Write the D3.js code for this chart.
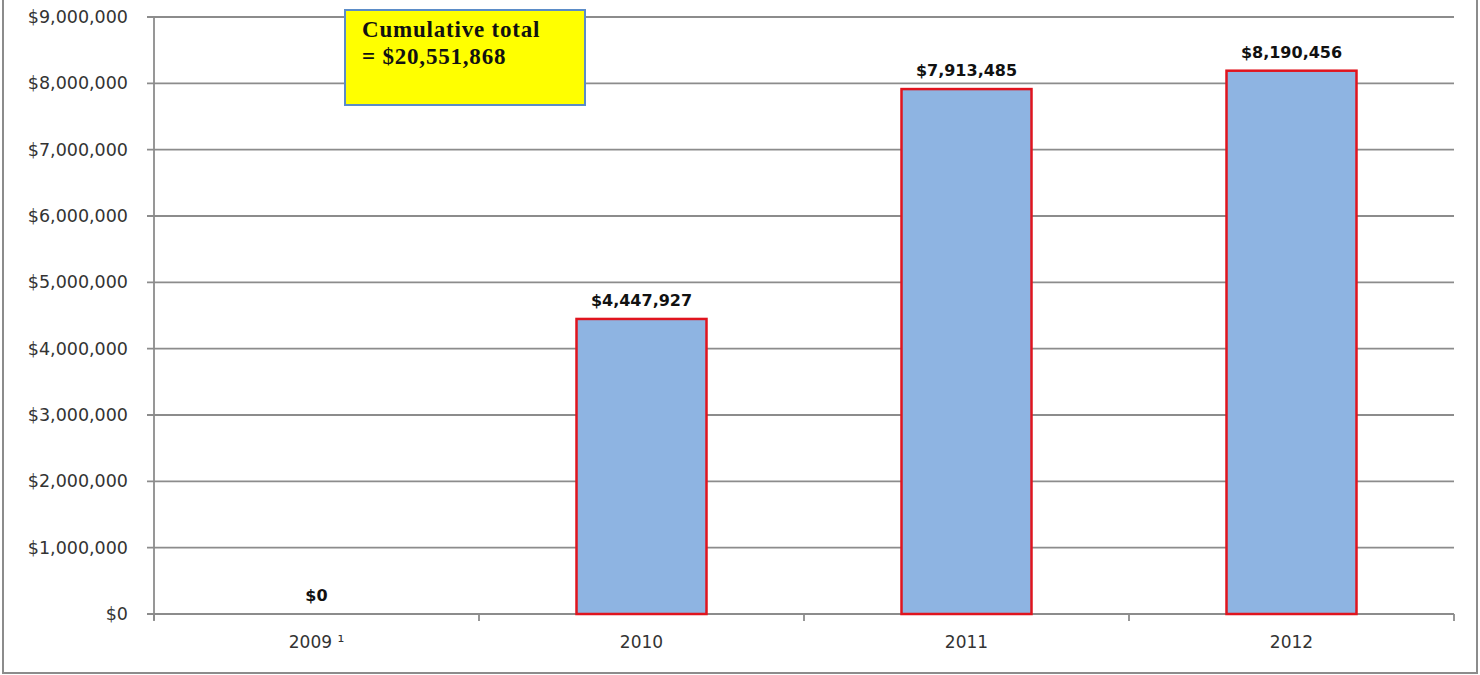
<!DOCTYPE html>
<html><head><meta charset="utf-8">
<script src="https://cdn.jsdelivr.net/npm/d3@7"></script>
<style>body{margin:0;background:#fff}svg{display:block}</style>
</head><body>
<svg id="c" width="1480" height="675"></svg>
<script>
const categories = ["2009 \u00b9", "2010", "2011", "2012"];
const values = [0, 4447927, 7913485, 8190456];
const valueLabels = ["$0", "$4,447,927", "$7,913,485", "$8,190,456"];
const yTicks = [0,1000000,2000000,3000000,4000000,5000000,6000000,7000000,8000000,9000000];
const noteLines = ["Cumulative total", "= $20,551,868"];

const svg = d3.select("#c");
const m = {left:154, right:1454, top:17, bottom:614};
const x = d3.scaleBand().domain(categories).range([m.left, m.right]).paddingInner(0).paddingOuter(0);
const y = d3.scaleLinear().domain([0, 9000000]).range([m.bottom, m.top]);
const font = "'DejaVu Sans', Verdana, sans-serif";

// outer frame
svg.append("path").attr("d","M3,0 V673 H1477 V0").attr("fill","none").attr("stroke","#8c8c8c").attr("stroke-width",2);

// gridlines
svg.append("g").selectAll("line").data(yTicks).join("line")
  .attr("x1", m.left-7).attr("x2", m.right)
  .attr("y1", d=>y(d)).attr("y2", d=>y(d))
  .attr("stroke","#8c8c8c").attr("stroke-width",1.8);

// y axis line
svg.append("line").attr("x1",m.left).attr("x2",m.left).attr("y1",m.top).attr("y2",m.bottom+6)
  .attr("stroke","#8c8c8c").attr("stroke-width",1.8);

// y tick labels
svg.append("g").selectAll("text").data(yTicks).join("text")
  .attr("x", 128).attr("y", d=>y(d)).attr("dy","0.35em")
  .attr("text-anchor","end").attr("font-family",font).attr("font-size",17.5).attr("fill","#333")
  .text(d=>d3.format("$,")(d));

// x ticks
const edges = categories.map(c=>x(c)).concat([m.right]);
svg.append("g").selectAll("line").data(edges).join("line")
  .attr("x1",d=>d).attr("x2",d=>d).attr("y1",m.bottom).attr("y2",m.bottom+7)
  .attr("stroke","#8c8c8c").attr("stroke-width",1.8);

// bars
const bw = x.bandwidth()*0.4;
svg.append("g").selectAll("rect").data(values.map((v,i)=>({v,c:categories[i]})).filter(d=>d.v>0)).join("rect")
  .attr("x", d=>x(d.c)+x.bandwidth()/2-bw/2).attr("width", bw)
  .attr("y", d=>y(d.v)).attr("height", d=>y(0)-y(d.v))
  .attr("fill","#8eb4e2").attr("stroke","#e0141e").attr("stroke-width",2.5);

// value labels
svg.append("g").selectAll("text").data(values).join("text")
  .attr("x",(d,i)=>x(categories[i])+x.bandwidth()/2)
  .attr("y",d=>y(d)-13)
  .attr("text-anchor","middle").attr("font-family",font).attr("font-weight","bold").attr("font-size",16).attr("fill","#111")
  .text((d,i)=>valueLabels[i]);

// x labels
svg.append("g").selectAll("text").data(categories).join("text")
  .attr("x",d=>x(d)+x.bandwidth()/2).attr("y",648)
  .attr("text-anchor","middle").attr("font-family",font).attr("font-size",17).attr("fill","#333")
  .text(d=>d);

// note box
svg.append("rect").attr("x",345).attr("y",10).attr("width",240).attr("height",95)
  .attr("fill","#ffff00").attr("stroke","#5b8cc8").attr("stroke-width",2);
svg.append("g").selectAll("text").data(noteLines).join("text")
  .attr("x",362).attr("y",(d,i)=>37+i*27)
  .attr("font-family","'Liberation Serif', 'Times New Roman', serif").attr("font-weight","bold")
  .attr("font-size",23).attr("letter-spacing",0.8).attr("fill","#111")
  .text(d=>d);
</script>
</body></html>
